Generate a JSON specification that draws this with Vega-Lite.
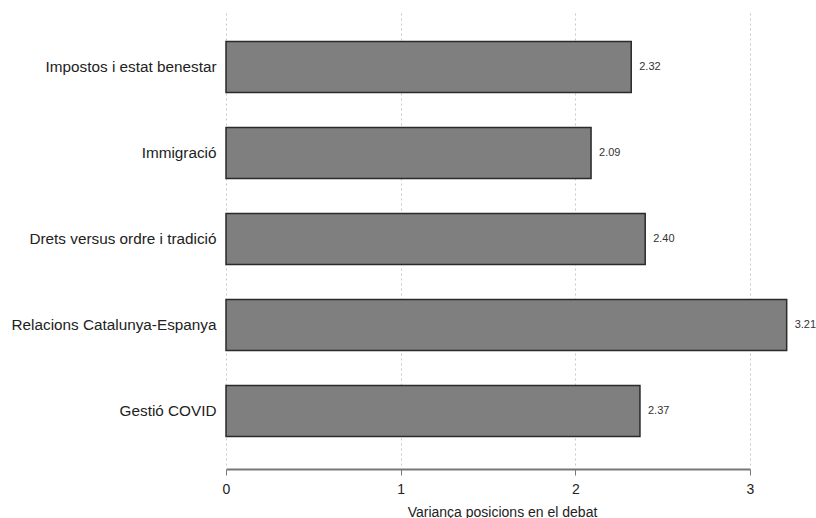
{
  "$schema": "https://vega.github.io/schema/vega-lite/v6.json",
  "autosize": {"type": "none"},
  "padding": {"left": 226, "top": 13, "right": 66, "bottom": 53},
  "width": 524,
  "height": 452,
  "background": "white",
  "config": {
    "view": {"stroke": null},
    "font": "Liberation Sans"
  },
  "data": {
    "values": [
      {"tema": "Impostos i estat benestar", "variancia": 2.32},
      {"tema": "Immigració", "variancia": 2.09},
      {"tema": "Drets versus ordre i tradició", "variancia": 2.40},
      {"tema": "Relacions Catalunya-Espanya", "variancia": 3.21},
      {"tema": "Gestió COVID", "variancia": 2.37}
    ]
  },
  "encoding": {
    "y": {
      "field": "tema",
      "type": "nominal",
      "sort": null,
      "scale": {"paddingInner": 0.407, "paddingOuter": 0.331},
      "axis": {
        "title": null,
        "domain": false,
        "ticks": false,
        "labelFontSize": 15.3,
        "labelColor": "#222",
        "labelPadding": 10,
        "labelLimit": 300
      }
    },
    "x": {
      "field": "variancia",
      "type": "quantitative",
      "scale": {"domain": [0, 3], "nice": false, "clamp": false},
      "axis": {
        "title": "Variança posicions en el debat",
        "titleFontSize": 14,
        "titleFontWeight": "normal",
        "titleColor": "#222",
        "titlePadding": 9,
        "titleX": 276,
        "titleAlign": "center",
        "values": [0, 1, 2, 3],
        "format": "d",
        "offset": 4,
        "labelFontSize": 14,
        "labelColor": "#222",
        "labelPadding": 7,
        "labelFlush": false,
        "tickSize": 6,
        "tickColor": "#777",
        "domainColor": "#777",
        "domainWidth": 2,
        "grid": true,
        "gridColor": "#c8c8c8",
        "gridDash": [2, 3],
        "gridWidth": 1
      }
    }
  },
  "layer": [
    {
      "mark": {"type": "bar", "fill": "#7e7f7e", "stroke": "#2a2a2a", "strokeWidth": 1.5, "clip": false}
    },
    {
      "mark": {"type": "text", "align": "left", "baseline": "middle", "dx": 8, "fontSize": 11, "fill": "#333", "clip": false},
      "encoding": {
        "text": {"field": "variancia", "type": "quantitative", "format": ".2f"}
      }
    }
  ]
}
